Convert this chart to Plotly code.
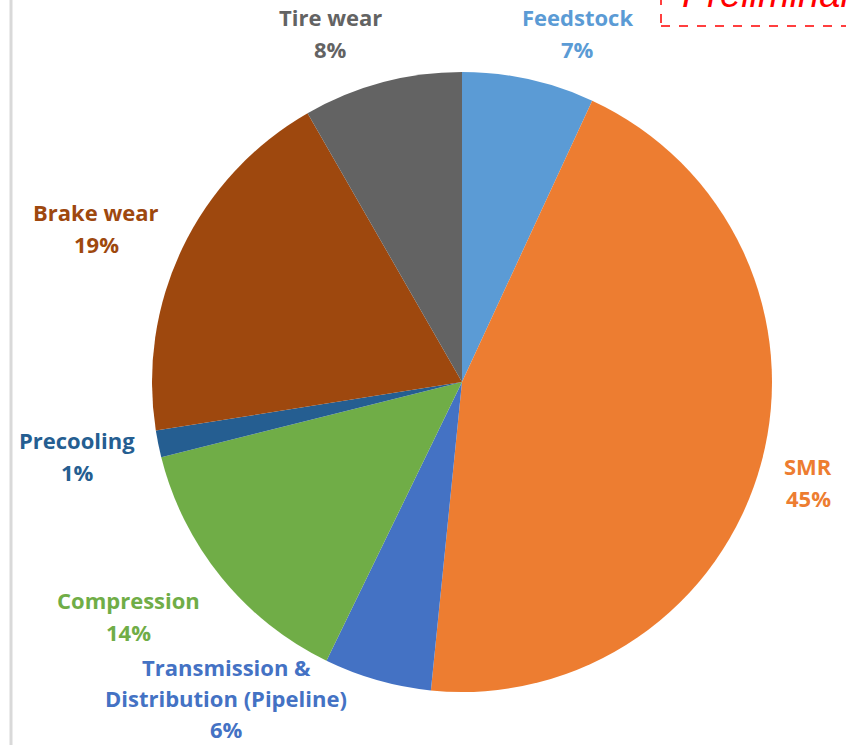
import plotly.graph_objects as go

W, H = 846, 745

categories = ["Feedstock", "SMR", "Transmission & Distribution (Pipeline)", "Compression",
              "Precooling", "Brake wear", "Tire wear"]
values = [6.9, 44.7, 5.6, 13.9, 1.4, 19.2, 8.3]
colors = ["#5B9BD5", "#ED7D31", "#4472C4", "#70AD47", "#255E91", "#9E480E", "#636363"]
label_lines = [["Feedstock"], ["SMR"], ["Transmission &", "Distribution (Pipeline)"],
               ["Compression"], ["Precooling"], ["Brake wear"], ["Tire wear"]]
# label block anchors (pixel x center, pixel y of first line center)
label_pos = [(577, 17), (808, 466), (226, 667), (128, 600), (77, 440), (96, 212), (330, 17)]
line_gap = [32, 32, 31, 32, 32, 32, 32]

total = sum(values)

fig = go.Figure(go.Pie(
    labels=categories,
    values=values,
    sort=False,
    direction="clockwise",
    rotation=0,
    marker=dict(colors=colors, line=dict(width=0)),
    textinfo="none",
    hoverinfo="label+percent",
    showlegend=False,
    domain=dict(x=[152 / W, 772 / W], y=[1 - 692 / H, 1 - 72 / H]),
))

font_family = "Open Sans"
ann = []
for lines, (px, py), gap, v, c in zip(label_lines, label_pos, line_gap, values, colors):
    texts = lines + [f"{round(v / total * 100)}%"]
    for i, t in enumerate(texts):
        ann.append(dict(
            x=px / W, y=1 - (py + i * gap) / H, xref="paper", yref="paper",
            text=f"<b>{t}</b>", showarrow=False, xanchor="center", yanchor="middle",
            font=dict(family=font_family, size=22, color=c),
        ))

# Preliminary stamp (cut off at top right, as in the source)
ann.append(dict(
    x=680 / W, y=1 - (-6) / H, xref="paper", yref="paper", text="<i>Preliminary</i>",
    showarrow=False, xanchor="left", yanchor="middle",
    font=dict(family="Liberation Sans", size=38, color="#FF0000"),
))

shapes = [
    dict(type="rect", xref="paper", yref="paper", x0=661 / W, x1=900 / W,
         y0=1 - 26 / H, y1=1 + 20 / H, line=dict(color="#FF0000", width=1.5, dash="dash")),
    dict(type="line", xref="paper", yref="paper", x0=11 / W, x1=11 / W, y0=0, y1=1,
         line=dict(color="#D9D9D9", width=3)),
]

fig.update_layout(
    width=W, height=H,
    margin=dict(l=0, r=0, t=0, b=0),
    paper_bgcolor="white", plot_bgcolor="white",
    annotations=ann, shapes=shapes,
)

fig.write_html("out.html")
